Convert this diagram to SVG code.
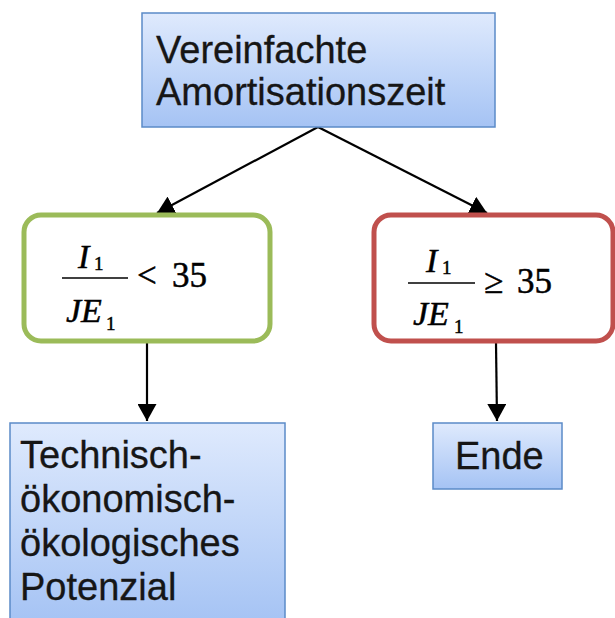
<svg xmlns="http://www.w3.org/2000/svg" width="615" height="618" viewBox="0 0 615 618">
<defs>
<linearGradient id="blue" x1="0" y1="0" x2="0" y2="1">
<stop offset="0" stop-color="#dfeafd"/>
<stop offset="1" stop-color="#a5c3f4"/>
</linearGradient>
<marker id="arr" viewBox="0 0 10 10" refX="10" refY="5" markerWidth="17" markerHeight="19" markerUnits="userSpaceOnUse" orient="auto" preserveAspectRatio="none">
<path d="M0,0 L10,5 L0,10 z" fill="#000"/>
</marker>
<style>
.box{fill:url(#blue);stroke:#5b8bc8;stroke-width:1.5}
.lbl{font-family:"Liberation Sans",Arial,sans-serif;font-size:38px;fill:#161616;stroke:#161616;stroke-width:0.3}
.m{font-family:"Liberation Serif","Times New Roman",serif;fill:#000;stroke:#000;stroke-width:0.5}
.mi{font-style:italic;font-size:34px}
.ms{font-size:19px}
.mo{font-size:35px}
.conn{stroke:#000;stroke-width:2.2;fill:none;marker-end:url(#arr)}
</style>
</defs>
<rect width="615" height="618" fill="#fff"/>
<g id="connectors">
<line class="conn" x1="318" y1="127" x2="157" y2="213"/>
<line class="conn" x1="318" y1="127" x2="487" y2="213"/>
<line class="conn" x1="147" y1="343" x2="147" y2="421"/>
<line class="conn" x1="496" y1="343" x2="497" y2="421"/>
</g>
<g id="start">
<rect class="box" x="142" y="13" width="353" height="114"/>
<text class="lbl" x="156" y="63">Vereinfachte</text>
<text class="lbl" x="156" y="105">Amortisationszeit</text>
</g>
<g id="cond-lt">
<rect x="24" y="215" width="246" height="126" rx="17" fill="#fff" stroke="#9bbb59" stroke-width="5"/>
<g class="m">
<text class="mi" x="78" y="268">I</text>
<text class="ms" x="94" y="270">1</text>
<line x1="62" y1="278" x2="128" y2="278" stroke="#000" stroke-width="1.6"/>
<text class="mi" x="66" y="322">JE</text>
<text class="ms" x="106" y="330">1</text>
<text class="mo" x="137" y="287">&lt;</text>
<text class="mo" x="172" y="287">35</text>
</g>
</g>
<g id="cond-ge">
<rect x="374" y="215" width="239" height="126" rx="17" fill="#fff" stroke="#c0504d" stroke-width="5"/>
<g class="m">
<text class="mi" x="426" y="272">I</text>
<text class="ms" x="442" y="274">1</text>
<line x1="408" y1="283" x2="475" y2="283" stroke="#000" stroke-width="1.6"/>
<text class="mi" x="413" y="325">JE</text>
<text class="ms" x="454" y="333">1</text>
<text class="mo" x="484" y="293">≥</text>
<text class="mo" x="517" y="293">35</text>
</g>
</g>
<g id="potential">
<rect class="box" x="10" y="423" width="275" height="200"/>
<text class="lbl" x="20" y="468">Technisch-</text>
<text class="lbl" x="20" y="512">ökonomisch-</text>
<text class="lbl" x="20" y="556">ökologisches</text>
<text class="lbl" x="20" y="600">Potenzial</text>
</g>
<g id="ende">
<rect class="box" x="433" y="423" width="129" height="66"/>
<text class="lbl" x="455" y="469">Ende</text>
</g>
</svg>
